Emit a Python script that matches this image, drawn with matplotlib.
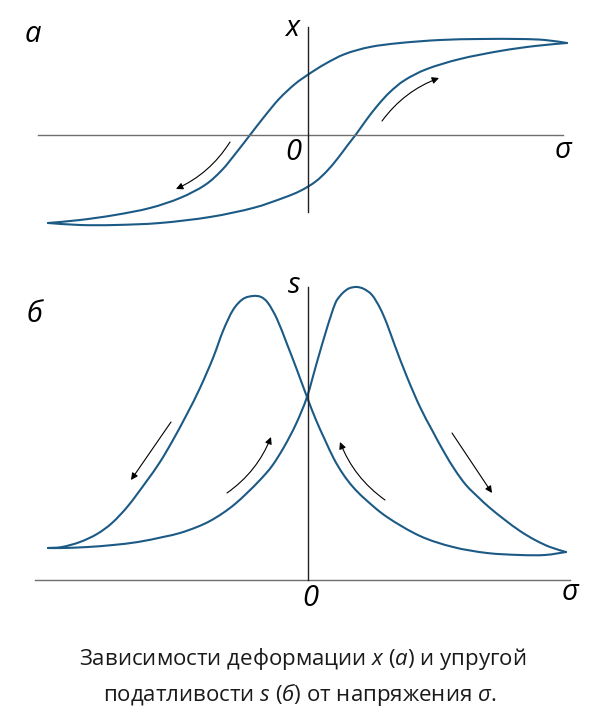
import matplotlib
matplotlib.use("Agg")
import matplotlib.pyplot as plt
import numpy as np
from matplotlib.path import Path
from matplotlib.patches import PathPatch

plt.rcParams['font.family'] = ['Open Sans', 'DejaVu Sans']
plt.rcParams['mathtext.fontset'] = 'custom'
plt.rcParams['mathtext.rm'] = 'Open Sans'
plt.rcParams['mathtext.it'] = 'Open Sans:italic'

# Schematic chart, arbitrary units (no ticks in the original)
# ---- panel (а): deformation x vs stress sigma (hysteresis loop) ----
a_upper_sigma = [-260, -228, -193, -158, -128, -103, -86, -72, -58, -44, -29, -13, 1,
                 17, 37, 62, 92, 132, 172, 212, 237, 259]
a_upper_x = [-88, -85, -80, -73, -63, -50, -35, -18, 0, 18, 36, 51, 61,
             71, 81, 88, 92, 95, 96, 96, 95, 92]
a_lower_sigma = [-260, -228, -193, -148, -98, -55, -25, -8, 7, 19, 30, 39, 49,
                 59, 70, 82, 97, 119, 152, 192, 227, 259]
a_lower_x = [-88, -90, -90, -88, -82, -73, -63, -56, -47, -36, -23, -11, 2,
             16, 30, 43, 55, 66, 76, 84, 89, 92]

# ---- panel (б): compliance s vs stress sigma ----
b_left_sigma = [-260, -246, -228, -211, -196, -180, -162, -148, -135, -121, -108, -95,
                -85, -75, -65, -55, -47, -40, -31, -21, -11, -1, 8, 17, 26, 35, 45,
                57, 79, 112, 145, 179, 212, 237, 258]
b_left_s = [32, 33, 38, 46, 57, 74, 98, 118, 140, 166, 192, 222,
            249, 270, 281, 284, 283, 277, 261, 236, 210, 183, 160, 140, 121, 106, 93,
            81, 63, 44, 33, 27, 25, 25, 28]
b_right_sigma = [-260, -245, -220, -195, -170, -145, -128, -111, -98, -85, -73, -61,
                 -48, -36, -24, -12, -1, 9, 19, 27, 32, 37, 42, 49, 56, 64, 72, 79,
                 87, 99, 112, 124, 136, 147, 158, 170, 182, 197, 212, 227, 242, 258]
b_right_s = [32, 32, 33, 35, 38, 43, 47, 53, 59, 67, 76, 87,
             100, 114, 133, 156, 183, 218, 252, 276, 284, 289, 292, 293, 291, 285, 272, 256,
             234, 203, 173, 150, 128, 110, 95, 83, 72, 60, 49, 40, 33, 28]

# arrows: (tail_sigma, tail_y, head_sigma, head_y, curvature)
a_arrows = [(74, 14, 131, 57, -0.15),
            (-78, -7, -132, -54, -0.15)]
b_arrows = [(-137, 158, -177, 100, 0.0),
            (-81, 87, -37, 143, 0.15),
            (77, 80, 32, 138, -0.15),
            (144, 147, 184, 87, 0.0)]

# axis extents
a_haxis = [-270, 255]
a_vaxis = [-77, 108]
b_haxis = [-273, 262]
b_vaxis = [0, 293]

caption1 = "Зависимости деформации $x$ ($а$) и упругой"
caption2 = "податливости $s$ ($б$) от напряжения $σ$."

CURVE = '#1c5a86'
W, H = 600, 725


def smooth_path(xs, ys):
    """Cubic Bezier path passing through every given point (Catmull-Rom tangents)."""
    p = np.column_stack([xs, ys]).astype(float)
    n = len(p)
    verts = [p[0]]
    codes = [Path.MOVETO]
    for i in range(n - 1):
        p0 = p[i - 1] if i > 0 else p[i]
        p1 = p[i]
        p2 = p[i + 1]
        p3 = p[i + 2] if i + 2 < n else p[i + 1]
        c1 = p1 + (p2 - p0) / 6.0
        c2 = p2 - (p3 - p1) / 6.0
        verts += [c1, c2, p2]
        codes += [Path.CURVE4] * 3
    return Path(verts, codes)


def draw_curve(ax, xs, ys):
    ax.add_patch(PathPatch(smooth_path(xs, ys), facecolor='none', edgecolor=CURVE,
                           lw=1.5, capstyle='round', joinstyle='round'))


def draw_arrows(ax, arrows):
    for ts, ty, hs, hy, rad in arrows:
        ax.annotate('', xy=(hs, hy), xytext=(ts, ty),
                    arrowprops=dict(arrowstyle='-|>', color='black', lw=0.8,
                                    mutation_scale=10, shrinkA=0, shrinkB=0,
                                    connectionstyle=f'arc3,rad={rad}'))


fig = plt.figure(figsize=(6.0, 7.25), dpi=100)

# top panel occupies pixel rows 0..250
ax1 = fig.add_axes([0, 1 - 250 / H, 1, 250 / H])
ax1.set_xlim(-308, 292)
ax1.set_ylim(-115, 135)
ax1.axis('off')
ax1.plot(a_haxis, [0, 0], color='#6e6e6e', lw=1.0)
ax1.plot([0, 0], a_vaxis, color='#222222', lw=1.0)
draw_curve(ax1, a_upper_sigma, a_upper_x)
draw_curve(ax1, a_lower_sigma, a_lower_x)
draw_arrows(ax1, a_arrows)

# bottom panel occupies pixel rows 255..625
ax2 = fig.add_axes([0, 1 - 625 / H, 1, 370 / H])
ax2.set_xlim(-308, 292)
ax2.set_ylim(-45, 325)
ax2.axis('off')
ax2.plot(b_haxis, [0, 0], color='#6e6e6e', lw=1.0)
ax2.plot([0, 0], b_vaxis, color='#222222', lw=1.0)
draw_curve(ax2, b_left_sigma, b_left_s)
draw_curve(ax2, b_right_sigma, b_right_s)
draw_arrows(ax2, b_arrows)


def label(px, py, s, size=21):
    fig.text(px / W, 1 - py / H, s, fontsize=size, style='italic',
             family='Open Sans', ha='center', va='center', color='black')


label(33, 35, 'а')
label(292, 28, 'x')
label(293, 152, '0')
label(563, 151, 'σ')
label(35, 315, 'б')
label(294, 286, 's')
label(310, 598, '0')
label(570, 593, 'σ')

fig.text(303 / W, 1 - 659 / H, caption1, fontsize=16, ha='center', va='center', color='#1a1a1a')
fig.text(300 / W, 1 - 694 / H, caption2, fontsize=16, ha='center', va='center', color='#1a1a1a')

fig.savefig('out.png', dpi=100)
